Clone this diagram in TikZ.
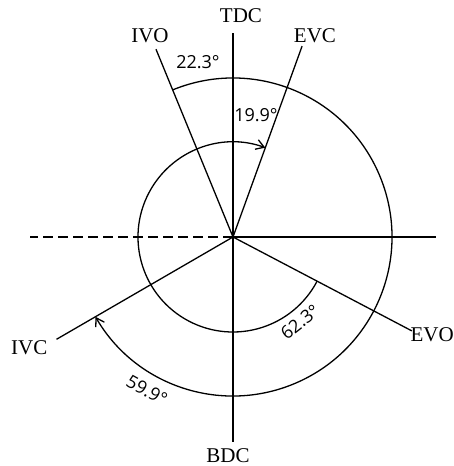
\documentclass[tikz,border=0pt]{standalone}
\usepackage{fontspec}
\setmainfont{Liberation Serif}
\newfontfamily\anglefont{Open Sans}
\usetikzlibrary{arrows.meta}
\begin{document}
\begin{tikzpicture}[x=0.5pt,y=0.5pt,line width=0.65pt,
  cranklabel/.style={font=\fontsize{10.5}{12}\selectfont,inner sep=0pt},
  deg/.style={font=\anglefont\fontsize{9}{10}\selectfont,inner sep=0pt},
  timing/.style={-{Straight Barb[length=4pt,width=5pt]}}]
\useasboundingbox (-233,-229) rectangle (221,237);
\coordinate (O) at (0,0);
% dead centres and horizontal
\coordinate (tdcEnd) at (90:204);
\coordinate (bdcEnd) at (-90:205);
\coordinate (rightEnd) at (0:203);
\coordinate (leftEnd) at (180:203);
\draw (O) -- (tdcEnd);
\draw (O) -- (bdcEnd);
\draw (O) -- (rightEnd);
\draw[dash pattern=on 5pt off 2.5pt] (O) -- (leftEnd);
% valve events
\coordinate (ivoEnd) at (112.3:203);
\coordinate (evcEnd) at (70.1:203);
\coordinate (evoEnd) at (-27.7:202);
\coordinate (ivcEnd) at (210.1:204);
\draw (O) -- (ivoEnd);
\draw (O) -- (evcEnd);
\draw (O) -- (evoEnd);
\draw (O) -- (ivcEnd);
% labels
\node[cranklabel] (tdc) at (8,221) {TDC};
\node[cranklabel] (bdc) at (-5,-219) {BDC};
\node[cranklabel] (ivo) at (-83,201) {IVO};
\node[cranklabel] (evc) at (82,201) {EVC};
\node[cranklabel,anchor=west] (evo) at (177,-98) {EVO};
\node[cranklabel,anchor=east] (ivc) at (-185,-111) {IVC};
% intake and exhaust periods
\coordinate (inStart) at (112.3:159);
\coordinate (exStart) at (-27.7:95);
\draw[timing] (inStart) arc[start angle=112.3,end angle=-149.9,radius=159];
\draw[timing] (exStart) arc[start angle=-27.7,end angle=-289.9,radius=95];
\node[deg] (ivoDeg) at (-35,175) {22.3°};
\node[deg] (evcDeg) at (23,122) {19.9°};
\node[deg,rotate=38] (evoDeg) at (67,-85) {62.3°};
\node[deg,rotate=-29] (ivcDeg) at (-86,-153) {59.9°};
\end{tikzpicture}
\end{document}
